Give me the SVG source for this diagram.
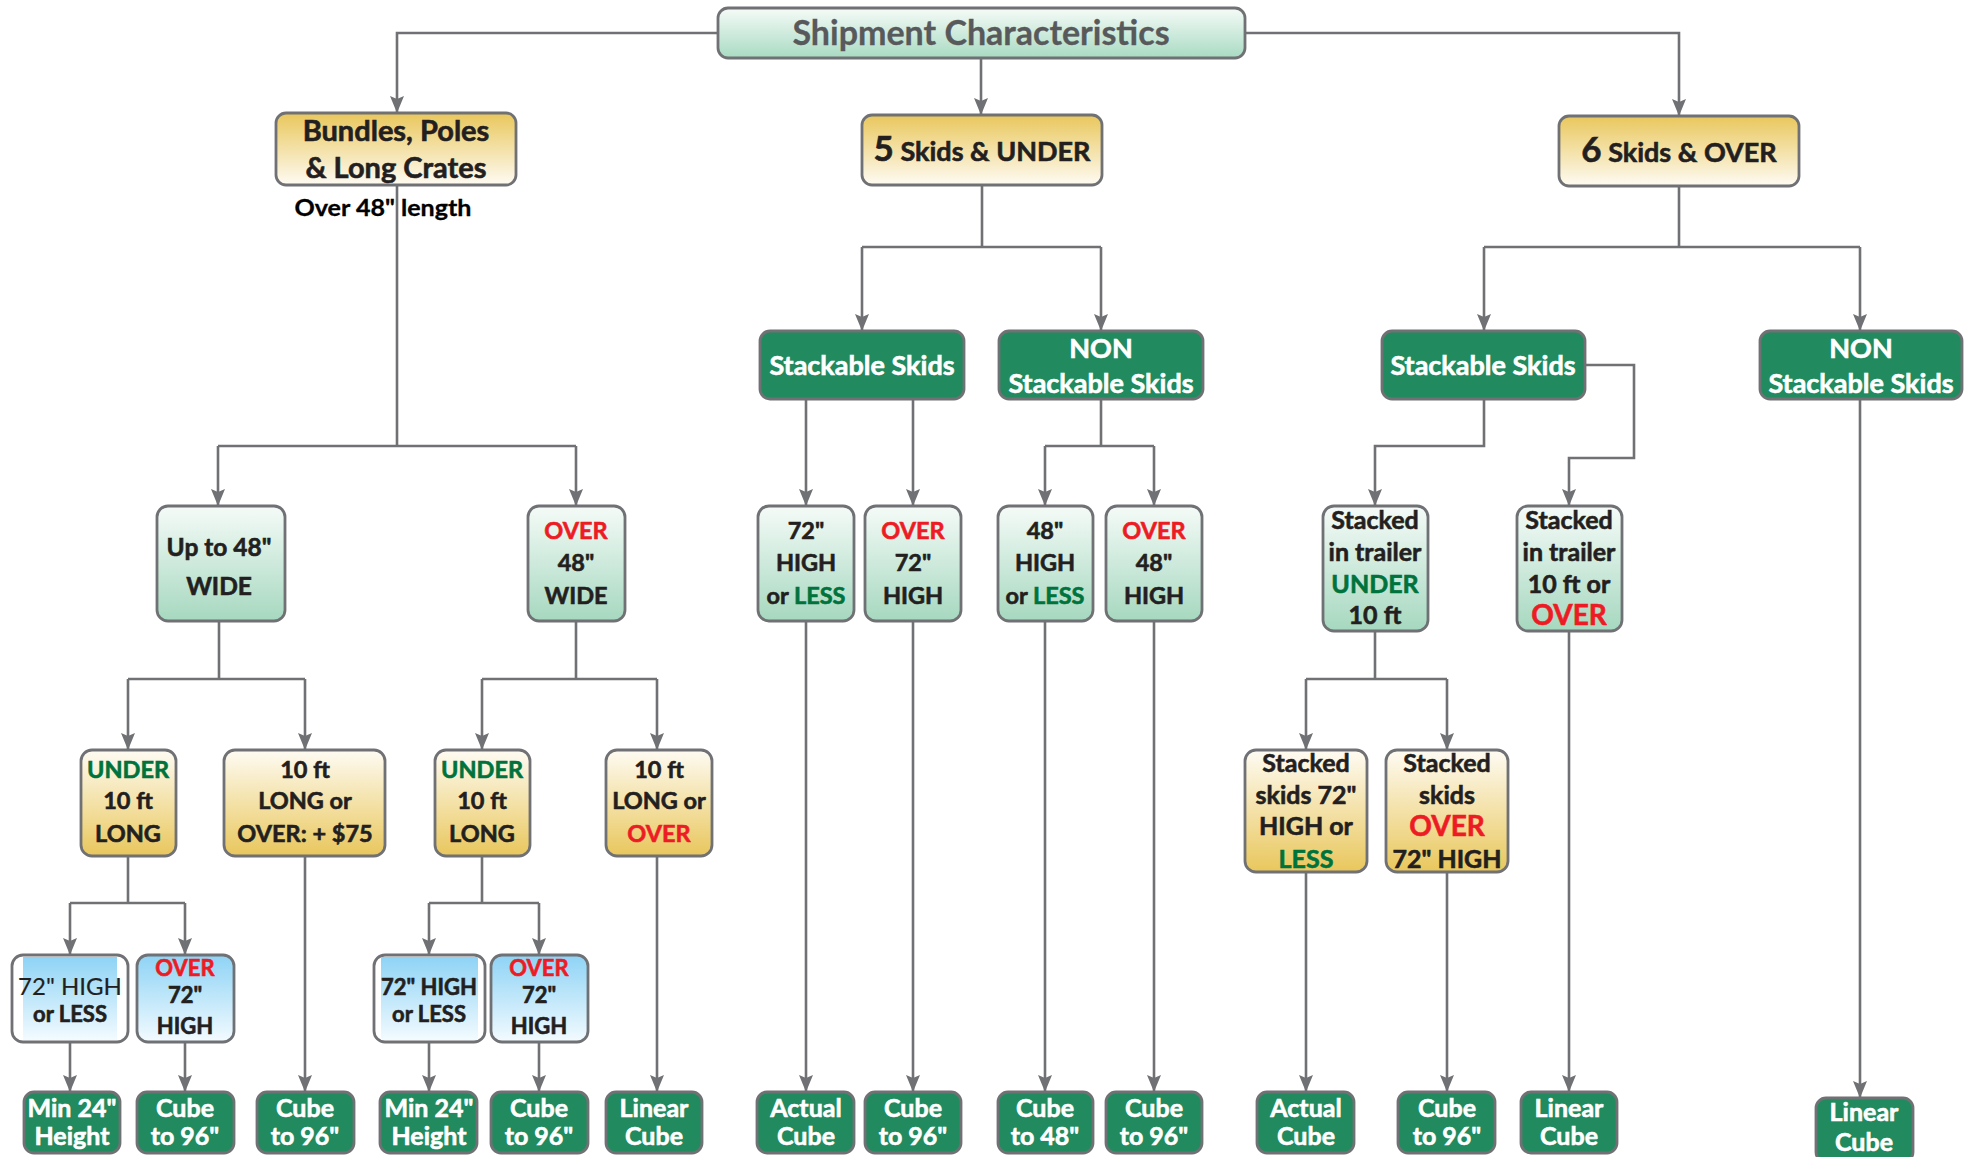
<svg xmlns="http://www.w3.org/2000/svg" width="1975" height="1157" viewBox="0 0 1975 1157">
<defs>
<linearGradient id="gTeal" x1="0" y1="0" x2="0" y2="1"><stop offset="0" stop-color="#f5fbf8"/><stop offset="1" stop-color="#a6d8bf"/></linearGradient>
<linearGradient id="gShip" x1="0" y1="0" x2="0" y2="1"><stop offset="0" stop-color="#f6fbf8"/><stop offset="1" stop-color="#a8dbc2"/></linearGradient>
<linearGradient id="gGoldDown" x1="0" y1="0" x2="0" y2="1"><stop offset="0" stop-color="#e9c75c"/><stop offset="1" stop-color="#fefbf3"/></linearGradient>
<linearGradient id="gGoldUp" x1="0" y1="0" x2="0" y2="1"><stop offset="0" stop-color="#fefbf3"/><stop offset="1" stop-color="#e9c75c"/></linearGradient>
<linearGradient id="gBlue" x1="0" y1="0" x2="0" y2="1"><stop offset="0" stop-color="#8ed3f5"/><stop offset="1" stop-color="#f3fbff"/></linearGradient>
<marker id="arr" markerUnits="userSpaceOnUse" markerWidth="17" markerHeight="14" refX="17" refY="7" orient="auto" viewBox="0 0 17 14">
<path d="M0,0 L17,7 L0,14 L3,7 Z" fill="#707174"/>
</marker>
<style>
.c{fill:none;stroke:#707174;stroke-width:2.6}
.a{marker-end:url(#arr)}
.b{stroke:#707174;stroke-width:2.8}
.dg{fill:#218b5f}
.t{font-family:Lato,"Open Sans",sans-serif;font-weight:bold;fill:#231f20;stroke:#231f20;stroke-width:0.6;text-anchor:middle}
.w{fill:#ffffff;stroke:#ffffff}
.r{fill:#ed1c24;stroke:#ed1c24}
.g{fill:#00733c;stroke:#00733c}
.n{font-weight:normal;stroke-width:0.2}
</style>
</defs>
<rect width="1975" height="1157" fill="#ffffff"/>

<g id="connectors">
<path class="c a" d="M718,33 H397 V113"/>
<path class="c a" d="M981,58 V115"/>
<path class="c a" d="M1245,33 H1679 V116"/>
<path class="c" d="M397,185 V446 M218,446 H576"/>
<path class="c a" d="M218,446 V506"/>
<path class="c a" d="M576,446 V506"/>
<path class="c" d="M982,185 V247 M862,247 H1101"/>
<path class="c a" d="M862,247 V331"/>
<path class="c a" d="M1101,247 V331"/>
<path class="c" d="M1679,186 V247 M1484,247 H1860"/>
<path class="c a" d="M1484,247 V331"/>
<path class="c a" d="M1860,247 V331"/>
<path class="c a" d="M806,399 V506"/>
<path class="c a" d="M913,399 V506"/>
<path class="c" d="M1101,399 V446 M1045,446 H1154"/>
<path class="c a" d="M1045,446 V506"/>
<path class="c a" d="M1154,446 V506"/>
<path class="c a" d="M1484,399 V446 H1375 V506"/>
<path class="c a" d="M1585,365 H1634 V458 H1569 V506"/>
<path class="c a" d="M1860,399 V1098"/>
<path class="c" d="M219,621 V679 M128,679 H305"/>
<path class="c a" d="M128,679 V750"/>
<path class="c a" d="M305,679 V750"/>
<path class="c" d="M576,621 V679 M482,679 H657"/>
<path class="c a" d="M482,679 V750"/>
<path class="c a" d="M657,679 V750"/>
<path class="c a" d="M806,621 V1092"/>
<path class="c a" d="M913,621 V1092"/>
<path class="c a" d="M1045,621 V1092"/>
<path class="c a" d="M1154,621 V1092"/>
<path class="c" d="M1375,631 V679 M1306,679 H1447"/>
<path class="c a" d="M1306,679 V750"/>
<path class="c a" d="M1447,679 V750"/>
<path class="c a" d="M1569,631 V1092"/>
<path class="c a" d="M1306,872 V1092"/>
<path class="c a" d="M1447,872 V1092"/>
<path class="c" d="M128,856 V903 M70,903 H185"/>
<path class="c a" d="M70,903 V955"/>
<path class="c a" d="M185,903 V955"/>
<path class="c a" d="M305,856 V1092"/>
<path class="c" d="M482,856 V903 M429,903 H539"/>
<path class="c a" d="M429,903 V955"/>
<path class="c a" d="M539,903 V955"/>
<path class="c a" d="M657,856 V1092"/>
<path class="c a" d="M70,1042 V1092"/>
<path class="c a" d="M185,1042 V1092"/>
<path class="c a" d="M429,1042 V1092"/>
<path class="c a" d="M539,1042 V1092"/>
</g>

<g id="n-shipment">
<rect class="b" x="718" y="8" width="527" height="50" rx="10" fill="url(#gShip)"/>
<text class="t" x="981" y="45" font-size="34" style="fill:#58595b;stroke:#58595b;stroke-width:0.3">Shipment Characteristics</text>
</g>
<g id="n-bundles">
<rect class="b" x="276" y="113" width="240" height="72" rx="10" fill="url(#gGoldDown)"/>
<text class="t" x="396" y="141" font-size="29">Bundles, Poles</text>
<text class="t" x="396" y="178" font-size="29">&amp; Long Crates</text>
<text class="t" x="383" y="216" font-size="22" textLength="177" lengthAdjust="spacingAndGlyphs" style="fill:#000;stroke:#000;stroke-width:0.3">Over 48" length</text>
</g>
<g id="n-5skids">
<rect class="b" x="862" y="115" width="240" height="70" rx="10" fill="url(#gGoldDown)"/>
<text class="t" x="982" y="161" font-size="27"><tspan font-size="35">5</tspan> Skids &amp; UNDER</text>
</g>
<g id="n-6skids">
<rect class="b" x="1559" y="116" width="240" height="70" rx="10" fill="url(#gGoldDown)"/>
<text class="t" x="1679" y="162" font-size="27"><tspan font-size="35">6</tspan> Skids &amp; OVER</text>
</g>

<g id="n-stack5">
<rect class="b dg" x="760" y="331" width="204" height="68" rx="10"/>
<text class="t w" x="862" y="375" font-size="27">Stackable Skids</text>
</g>
<g id="n-nonstack5">
<rect class="b dg" x="999" y="331" width="204" height="68" rx="10"/>
<text class="t w" x="1101" y="358" font-size="27">NON</text>
<text class="t w" x="1101" y="393" font-size="27">Stackable Skids</text>
</g>
<g id="n-stack6">
<rect class="b dg" x="1382" y="331" width="203" height="68" rx="10"/>
<text class="t w" x="1483" y="375" font-size="27">Stackable Skids</text>
</g>
<g id="n-nonstack6">
<rect class="b dg" x="1760" y="331" width="202" height="68" rx="10"/>
<text class="t w" x="1861" y="358" font-size="27">NON</text>
<text class="t w" x="1861" y="393" font-size="27">Stackable Skids</text>
</g>

<g id="n-upto48">
<rect class="b" x="157" y="506" width="128" height="115" rx="11" fill="url(#gTeal)"/>
<text class="t" x="219" y="556" font-size="24.5">Up to 48"</text>
<text class="t" x="219" y="595" font-size="24.5">WIDE</text>
</g>
<g id="n-over48wide">
<rect class="b" x="528" y="506" width="97" height="115" rx="11" fill="url(#gTeal)"/>
<text class="t" x="576" y="539" font-size="23.5"><tspan class="r">OVER</tspan></text>
<text class="t" x="576" y="571" font-size="23.5">48"</text>
<text class="t" x="576" y="604" font-size="23.5">WIDE</text>
</g>
<g id="n-72less">
<rect class="b" x="758" y="506" width="96" height="115" rx="11" fill="url(#gTeal)"/>
<text class="t" x="806" y="539" font-size="23.5">72"</text>
<text class="t" x="806" y="571" font-size="23.5">HIGH</text>
<text class="t" x="806" y="604" font-size="23.5">or <tspan class="g">LESS</tspan></text>
</g>
<g id="n-over72">
<rect class="b" x="865" y="506" width="96" height="115" rx="11" fill="url(#gTeal)"/>
<text class="t" x="913" y="539" font-size="23.5"><tspan class="r">OVER</tspan></text>
<text class="t" x="913" y="571" font-size="23.5">72"</text>
<text class="t" x="913" y="604" font-size="23.5">HIGH</text>
</g>
<g id="n-48less">
<rect class="b" x="998" y="506" width="95" height="115" rx="11" fill="url(#gTeal)"/>
<text class="t" x="1045" y="539" font-size="23.5">48"</text>
<text class="t" x="1045" y="571" font-size="23.5">HIGH</text>
<text class="t" x="1045" y="604" font-size="23.5">or <tspan class="g">LESS</tspan></text>
</g>
<g id="n-over48high">
<rect class="b" x="1106" y="506" width="96" height="115" rx="11" fill="url(#gTeal)"/>
<text class="t" x="1154" y="539" font-size="23.5"><tspan class="r">OVER</tspan></text>
<text class="t" x="1154" y="571" font-size="23.5">48"</text>
<text class="t" x="1154" y="604" font-size="23.5">HIGH</text>
</g>
<g id="n-trailer-under">
<rect class="b" x="1323" y="506" width="105" height="125" rx="11" fill="url(#gTeal)"/>
<text class="t" x="1375" y="529" font-size="25">Stacked</text>
<text class="t" x="1375" y="561" font-size="25">in trailer</text>
<text class="t" x="1375" y="593" font-size="25"><tspan class="g">UNDER</tspan></text>
<text class="t" x="1375" y="624" font-size="25">10 ft</text>
</g>
<g id="n-trailer-over">
<rect class="b" x="1517" y="506" width="105" height="125" rx="11" fill="url(#gTeal)"/>
<text class="t" x="1569" y="529" font-size="25">Stacked</text>
<text class="t" x="1569" y="561" font-size="25">in trailer</text>
<text class="t" x="1569" y="593" font-size="25">10 ft or</text>
<text class="t" x="1569" y="625" font-size="28"><tspan class="r">OVER</tspan></text>
</g>

<g id="n-under10a">
<rect class="b" x="81" y="750" width="95" height="106" rx="11" fill="url(#gGoldUp)"/>
<text class="t" x="128" y="778" font-size="23.5"><tspan class="g">UNDER</tspan></text>
<text class="t" x="128" y="809" font-size="23.5">10 ft</text>
<text class="t" x="128" y="842" font-size="23.5">LONG</text>
</g>
<g id="n-10ft75">
<rect class="b" x="224" y="750" width="161" height="106" rx="11" fill="url(#gGoldUp)"/>
<text class="t" x="305" y="778" font-size="23.5">10 ft</text>
<text class="t" x="305" y="809" font-size="23.5">LONG or</text>
<text class="t" x="305" y="842" font-size="23.5">OVER: + $75</text>
</g>
<g id="n-under10b">
<rect class="b" x="435" y="750" width="95" height="106" rx="11" fill="url(#gGoldUp)"/>
<text class="t" x="482" y="778" font-size="23.5"><tspan class="g">UNDER</tspan></text>
<text class="t" x="482" y="809" font-size="23.5">10 ft</text>
<text class="t" x="482" y="842" font-size="23.5">LONG</text>
</g>
<g id="n-10ftover">
<rect class="b" x="606" y="750" width="106" height="106" rx="11" fill="url(#gGoldUp)"/>
<text class="t" x="659" y="778" font-size="23.5">10 ft</text>
<text class="t" x="659" y="809" font-size="23.5">LONG or</text>
<text class="t" x="659" y="842" font-size="23.5"><tspan class="r">OVER</tspan></text>
</g>
<g id="n-skids72less">
<rect class="b" x="1245" y="750" width="122" height="122" rx="11" fill="url(#gGoldUp)"/>
<text class="t" x="1306" y="772" font-size="25">Stacked</text>
<text class="t" x="1306" y="804" font-size="25">skids 72"</text>
<text class="t" x="1306" y="835" font-size="25">HIGH or</text>
<text class="t" x="1306" y="868" font-size="25"><tspan class="g">LESS</tspan></text>
</g>
<g id="n-skidsover72">
<rect class="b" x="1386" y="750" width="122" height="122" rx="11" fill="url(#gGoldUp)"/>
<text class="t" x="1447" y="772" font-size="25">Stacked</text>
<text class="t" x="1447" y="804" font-size="25">skids</text>
<text class="t" x="1447" y="836" font-size="28"><tspan class="r">OVER</tspan></text>
<text class="t" x="1447" y="868" font-size="25">72" HIGH</text>
</g>

<g id="n-blue-less-a">
<rect class="b" x="12" y="955" width="116" height="87" rx="11" fill="#ffffff"/>
<rect x="23" y="957" width="94" height="83" fill="url(#gBlue)"/>
<text class="t n" x="70" y="995" font-size="24">72" HIGH</text>
<text class="t" x="70" y="1022" font-size="22">or LESS</text>
</g>
<g id="n-blue-over-a">
<rect class="b" x="137" y="955" width="97" height="87" rx="11" fill="url(#gBlue)"/>
<text class="t" x="185" y="976" font-size="22"><tspan class="r">OVER</tspan></text>
<text class="t" x="185" y="1003" font-size="22">72"</text>
<text class="t" x="185" y="1034" font-size="22">HIGH</text>
</g>
<g id="n-blue-less-b">
<rect class="b" x="374" y="955" width="111" height="87" rx="11" fill="#ffffff"/>
<rect x="381" y="957" width="97" height="83" fill="url(#gBlue)"/>
<text class="t" x="429" y="995" font-size="22">72" HIGH</text>
<text class="t" x="429" y="1022" font-size="22">or LESS</text>
</g>
<g id="n-blue-over-b">
<rect class="b" x="491" y="955" width="97" height="87" rx="11" fill="url(#gBlue)"/>
<text class="t" x="539" y="976" font-size="22"><tspan class="r">OVER</tspan></text>
<text class="t" x="539" y="1003" font-size="22">72"</text>
<text class="t" x="539" y="1034" font-size="22">HIGH</text>
</g>

<g id="n-min24a">
<rect class="b dg" x="24" y="1092" width="96" height="61" rx="10"/>
<text class="t w" x="72" y="1117" font-size="25">Min 24"</text>
<text class="t w" x="72" y="1145" font-size="25">Height</text>
</g>
<g id="n-cube96a">
<rect class="b dg" x="137" y="1092" width="97" height="61" rx="10"/>
<text class="t w" x="185" y="1117" font-size="25">Cube</text>
<text class="t w" x="185" y="1145" font-size="25">to 96"</text>
</g>
<g id="n-cube96b">
<rect class="b dg" x="257" y="1092" width="97" height="61" rx="10"/>
<text class="t w" x="305" y="1117" font-size="25">Cube</text>
<text class="t w" x="305" y="1145" font-size="25">to 96"</text>
</g>
<g id="n-min24b">
<rect class="b dg" x="380" y="1092" width="97" height="61" rx="10"/>
<text class="t w" x="429" y="1117" font-size="25">Min 24"</text>
<text class="t w" x="429" y="1145" font-size="25">Height</text>
</g>
<g id="n-cube96c">
<rect class="b dg" x="491" y="1092" width="97" height="61" rx="10"/>
<text class="t w" x="539" y="1117" font-size="25">Cube</text>
<text class="t w" x="539" y="1145" font-size="25">to 96"</text>
</g>
<g id="n-linear-a">
<rect class="b dg" x="606" y="1092" width="96" height="61" rx="10"/>
<text class="t w" x="654" y="1117" font-size="25">Linear</text>
<text class="t w" x="654" y="1145" font-size="25">Cube</text>
</g>
<g id="n-actual-a">
<rect class="b dg" x="757" y="1092" width="97" height="61" rx="10"/>
<text class="t w" x="806" y="1117" font-size="25">Actual</text>
<text class="t w" x="806" y="1145" font-size="25">Cube</text>
</g>
<g id="n-cube96d">
<rect class="b dg" x="865" y="1092" width="96" height="61" rx="10"/>
<text class="t w" x="913" y="1117" font-size="25">Cube</text>
<text class="t w" x="913" y="1145" font-size="25">to 96"</text>
</g>
<g id="n-cube48">
<rect class="b dg" x="998" y="1092" width="95" height="61" rx="10"/>
<text class="t w" x="1045" y="1117" font-size="25">Cube</text>
<text class="t w" x="1045" y="1145" font-size="25">to 48"</text>
</g>
<g id="n-cube96e">
<rect class="b dg" x="1106" y="1092" width="96" height="61" rx="10"/>
<text class="t w" x="1154" y="1117" font-size="25">Cube</text>
<text class="t w" x="1154" y="1145" font-size="25">to 96"</text>
</g>
<g id="n-actual-b">
<rect class="b dg" x="1257" y="1092" width="97" height="61" rx="10"/>
<text class="t w" x="1306" y="1117" font-size="25">Actual</text>
<text class="t w" x="1306" y="1145" font-size="25">Cube</text>
</g>
<g id="n-cube96f">
<rect class="b dg" x="1398" y="1092" width="97" height="61" rx="10"/>
<text class="t w" x="1447" y="1117" font-size="25">Cube</text>
<text class="t w" x="1447" y="1145" font-size="25">to 96"</text>
</g>
<g id="n-linear-b">
<rect class="b dg" x="1521" y="1092" width="96" height="61" rx="10"/>
<text class="t w" x="1569" y="1117" font-size="25">Linear</text>
<text class="t w" x="1569" y="1145" font-size="25">Cube</text>
</g>
<g id="n-linear-c">
<rect class="b dg" x="1816" y="1098" width="97" height="64" rx="10"/>
<text class="t w" x="1864" y="1121" font-size="25">Linear</text>
<text class="t w" x="1864" y="1151" font-size="25">Cube</text>
</g>
</svg>
